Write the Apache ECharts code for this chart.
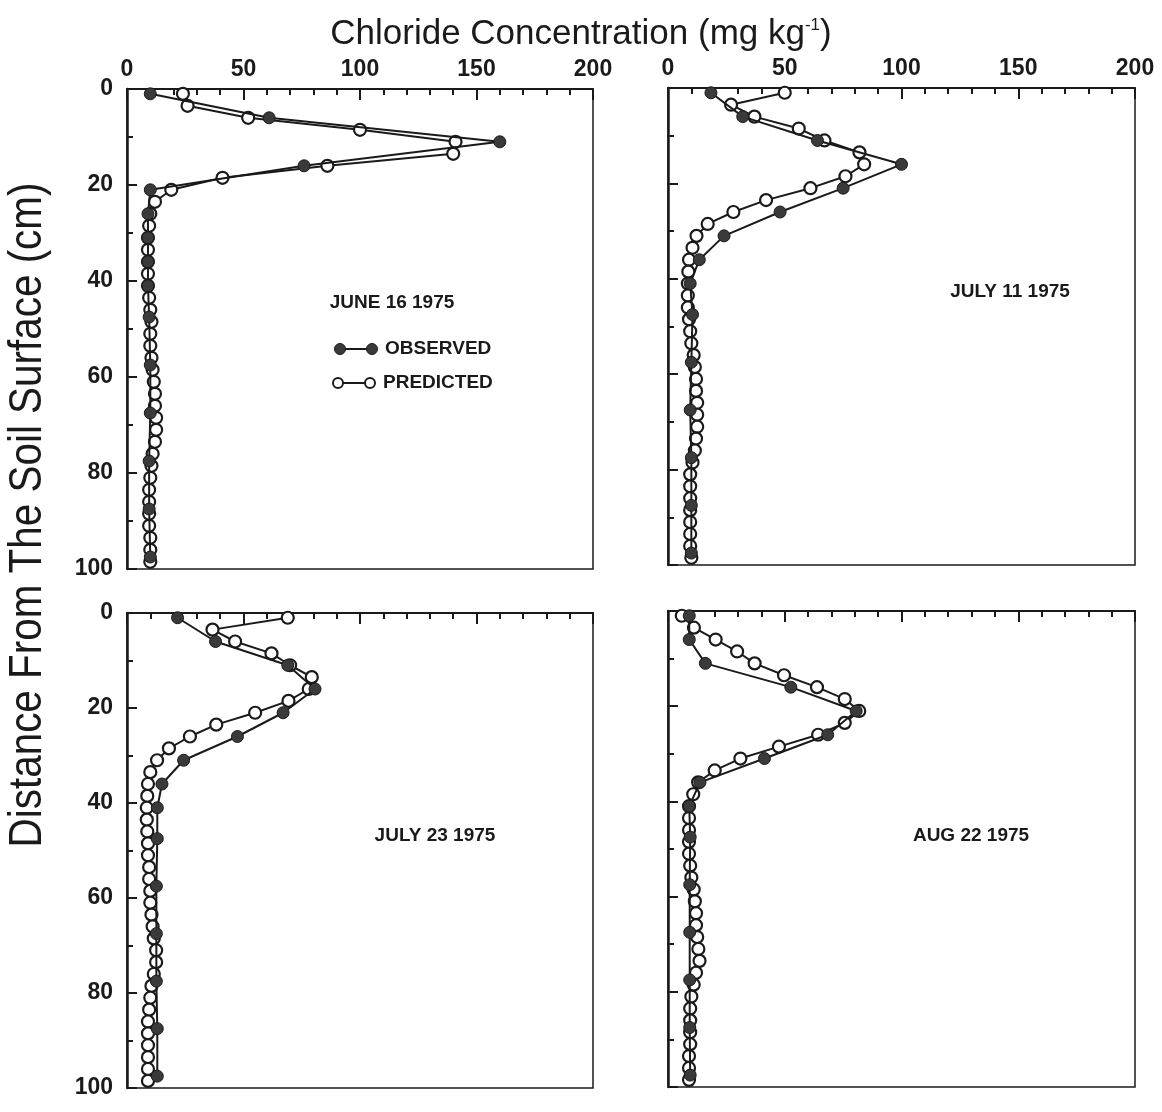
<!DOCTYPE html>
<html>
<head>
<meta charset="utf-8">
<script src="https://cdn.jsdelivr.net/npm/echarts@6/dist/echarts.min.js"></script>
<style>
  html, body { margin: 0; padding: 0; background: #fff; }
  #chart { width: 1162px; height: 1112px; }
</style>
</head>
<body>
<div id="chart"></div>
<script>
// depths (cm) of the sampled points
const obsDepth = [1, 6, 11, 16, 21, 26, 31, 36, 41, 47.5, 57.5, 67.5, 77.5, 87.5, 97.5];
const predDepth = [1, 3.5, 6, 8.5, 11, 13.5, 16, 18.5, 21, 23.5, 26, 28.5, 31, 33.5, 36, 38.5,
  41, 43.5, 46, 48.5, 51, 53.5, 56, 58.5, 61, 63.5, 66, 68.5, 71, 73.5, 76, 78.5,
  81, 83.5, 86, 88.5, 91, 93.5, 96, 98.5];

// chloride (mg/kg) per panel
const june16Obs = [10, 61, 160, 76, 10, 9, 9, 9, 9, 9.5, 10, 10, 9.5, 9.5, 10];
const june16Pred = [24, 26, 52, 100, 141, 140, 86, 41, 19, 12, 10, 9.5, 9, 9, 9, 9,
  9, 9.5, 10, 10.5, 10, 10, 10.5, 11, 11.5, 12, 12, 12.5, 12.5, 12, 11, 10.5,
  10, 9.5, 9.5, 9.5, 9.5, 10, 10, 10];

const july11Obs = [18.4, 32, 64, 100, 75, 48, 24, 13.4, 9.5, 10.5, 10, 9.5, 10, 10, 10];
const july11Pred = [50, 27, 37, 56, 67, 82, 84, 76, 61, 42, 28, 17, 12.2, 10.5, 9, 8.7,
  8.5, 8.5, 8.5, 9, 9.5, 10, 11, 11.5, 12, 12, 12.5, 12.5, 12.5, 12, 11.5, 10.5,
  9.5, 9.5, 9.5, 9.5, 9.5, 9.5, 9.5, 10];

const july23Obs = [21.7, 38, 69, 80.7, 67, 47.4, 24.3, 15, 13, 13, 12.6, 12.6, 12.6, 13, 13];
const july23Pred = [69, 36.7, 46.4, 62, 70, 79.3, 78, 69.3, 55, 38.3, 27, 18, 12.9, 10, 9, 8.7,
  8.5, 8.5, 8.7, 9, 9, 9.5, 9.5, 10, 10, 10.5, 11, 11.5, 12.5, 12.5, 11.5, 10.5,
  10, 9.5, 9, 9, 9, 9, 9, 9];

const aug22Obs = [9.1, 9.1, 16, 52.6, 80.6, 68.4, 41.3, 13.7, 9.1, 9.5, 9.3, 9.3, 9.3, 9.3, 9.5];
const aug22Pred = [5.9, 11.1, 20.4, 29.6, 37.1, 49.7, 63.8, 75.7, 81.9, 75.7, 64.3, 47.5, 31, 20, 12.9, 10.8,
  9, 9, 9, 9, 9, 9.5, 10, 11, 11.5, 12, 12, 12.5, 13, 13.5, 12, 11,
  10, 9.5, 9.5, 9.5, 9.5, 9, 9, 9];

const panelLabels = ['JUNE 16 1975', 'JULY 11 1975', 'JULY 23 1975', 'AUG 22 1975'];
const xTicks = [0, 50, 100, 150, 200];
const yTicks = [0, 20, 40, 60, 80, 100];

const panels = [
  { obs: june16Obs, pred: june16Pred },
  { obs: july11Obs, pred: july11Pred },
  { obs: july23Obs, pred: july23Pred },
  { obs: aug22Obs, pred: aug22Pred },
];

const grids = [
  { left: 127, top: 89, width: 466, height: 480 },
  { left: 668, top: 88, width: 467, height: 477 },
  { left: 127, top: 613, width: 466, height: 475 },
  { left: 668, top: 611, width: 467, height: 476 },
];

const ink = '#1a1a1a';
const sans = 'Liberation Sans, Arial, sans-serif';
const labelFont = { color: ink, fontFamily: sans, fontWeight: 'bold', fontSize: 23 };

const xAxes = grids.map((g, i) => ({
  gridIndex: i,
  type: 'value',
  position: 'top',
  min: xTicks[0],
  max: xTicks[xTicks.length - 1],
  interval: 50,
  axisLine: { show: true, lineStyle: { color: ink, width: 2 } },
  axisTick: { show: true, inside: true, length: 11, lineStyle: { color: ink, width: 2 } },
  minorTick: { show: true, splitNumber: 5, length: 6, lineStyle: { color: ink, width: 2 } },
  splitLine: { show: false },
  axisLabel: { show: i < 2, margin: 8, ...labelFont },
}));

const yAxes = grids.map((g, i) => ({
  gridIndex: i,
  type: 'value',
  inverse: true,
  min: yTicks[0],
  max: yTicks[yTicks.length - 1],
  interval: 20,
  axisLine: { show: true, lineStyle: { color: ink, width: 2.5 } },
  axisTick: { show: true, inside: true, length: 10, lineStyle: { color: ink, width: 2 } },
  minorTick: { show: true, splitNumber: 2, length: 6, lineStyle: { color: ink, width: 2 } },
  splitLine: { show: false },
  axisLabel: { show: i % 2 === 0, margin: 14, ...labelFont },
}));

const series = [];
panels.forEach((p, i) => {
  series.push({
    name: 'PREDICTED',
    type: 'line',
    xAxisIndex: i,
    yAxisIndex: i,
    data: p.pred.map((v, k) => [v, predDepth[k]]),
    symbol: 'circle',
    symbolSize: 12,
    lineStyle: { color: ink, width: 2 },
    itemStyle: { color: '#fff', borderColor: ink, borderWidth: 2.2 },
    z: 3,
  });
  series.push({
    name: 'OBSERVED',
    type: 'line',
    xAxisIndex: i,
    yAxisIndex: i,
    data: p.obs.map((v, k) => [v, obsDepth[k]]),
    symbol: 'circle',
    symbolSize: 12,
    lineStyle: { color: ink, width: 2 },
    itemStyle: { color: '#3a3a3a', borderColor: ink, borderWidth: 1 },
    z: 4,
  });
});

const dateFont = { fill: ink, fontFamily: sans, fontWeight: 'bold', fontSize: 19 };

const graphic = [
  {
    type: 'text', x: 28, y: 515, rotation: Math.PI / 2, scaleX: 0.86,
    style: { text: 'Distance From The Soil Surface (cm)', fill: ink, fontFamily: sans, fontSize: 47,
      align: 'center', verticalAlign: 'middle' },
  },
  { type: 'text', x: 392, y: 303, style: { text: panelLabels[0], align: 'center', verticalAlign: 'middle', ...dateFont } },
  { type: 'text', x: 1010, y: 292, style: { text: panelLabels[1], align: 'center', verticalAlign: 'middle', ...dateFont } },
  { type: 'text', x: 435, y: 836, style: { text: panelLabels[2], align: 'center', verticalAlign: 'middle', ...dateFont } },
  { type: 'text', x: 971, y: 836, style: { text: panelLabels[3], align: 'center', verticalAlign: 'middle', ...dateFont } },
  // legend keys
  { type: 'line', shape: { x1: 340, y1: 349, x2: 372, y2: 349 }, style: { stroke: ink, lineWidth: 2 } },
  { type: 'circle', shape: { cx: 340, cy: 349, r: 5.5 }, style: { fill: '#3a3a3a', stroke: ink, lineWidth: 1 } },
  { type: 'circle', shape: { cx: 372, cy: 349, r: 5.5 }, style: { fill: '#3a3a3a', stroke: ink, lineWidth: 1 } },
  { type: 'text', x: 385, y: 349, style: { text: 'OBSERVED', align: 'left', verticalAlign: 'middle', ...dateFont } },
  { type: 'line', shape: { x1: 338, y1: 383, x2: 370, y2: 383 }, style: { stroke: ink, lineWidth: 2 } },
  { type: 'circle', shape: { cx: 338, cy: 383, r: 5 }, style: { fill: '#fff', stroke: ink, lineWidth: 2 } },
  { type: 'circle', shape: { cx: 370, cy: 383, r: 5 }, style: { fill: '#fff', stroke: ink, lineWidth: 2 } },
  { type: 'text', x: 383, y: 383, style: { text: 'PREDICTED', align: 'left', verticalAlign: 'middle', ...dateFont } },
];

const chart = echarts.init(document.getElementById('chart'), null, { renderer: 'canvas' });
chart.setOption({
  animation: false,
  backgroundColor: '#fff',
  title: {
    text: '{a|Chloride Concentration (mg kg}{s|-1}{a|)}',
    left: 'center',
    top: 12,
    textStyle: {
      rich: {
        a: { fontFamily: sans, fontSize: 35, fontWeight: 'normal', color: ink },
        s: { fontFamily: sans, fontSize: 17, fontWeight: 'normal', color: ink, verticalAlign: 'top', padding: [0, 0, 15, 0] },
      },
    },
  },
  grid: grids.map(g => ({ ...g, show: true, borderColor: ink, borderWidth: 1.5, backgroundColor: 'transparent' })),
  xAxis: xAxes,
  yAxis: yAxes,
  series,
  graphic,
});
</script>
</body>
</html>
